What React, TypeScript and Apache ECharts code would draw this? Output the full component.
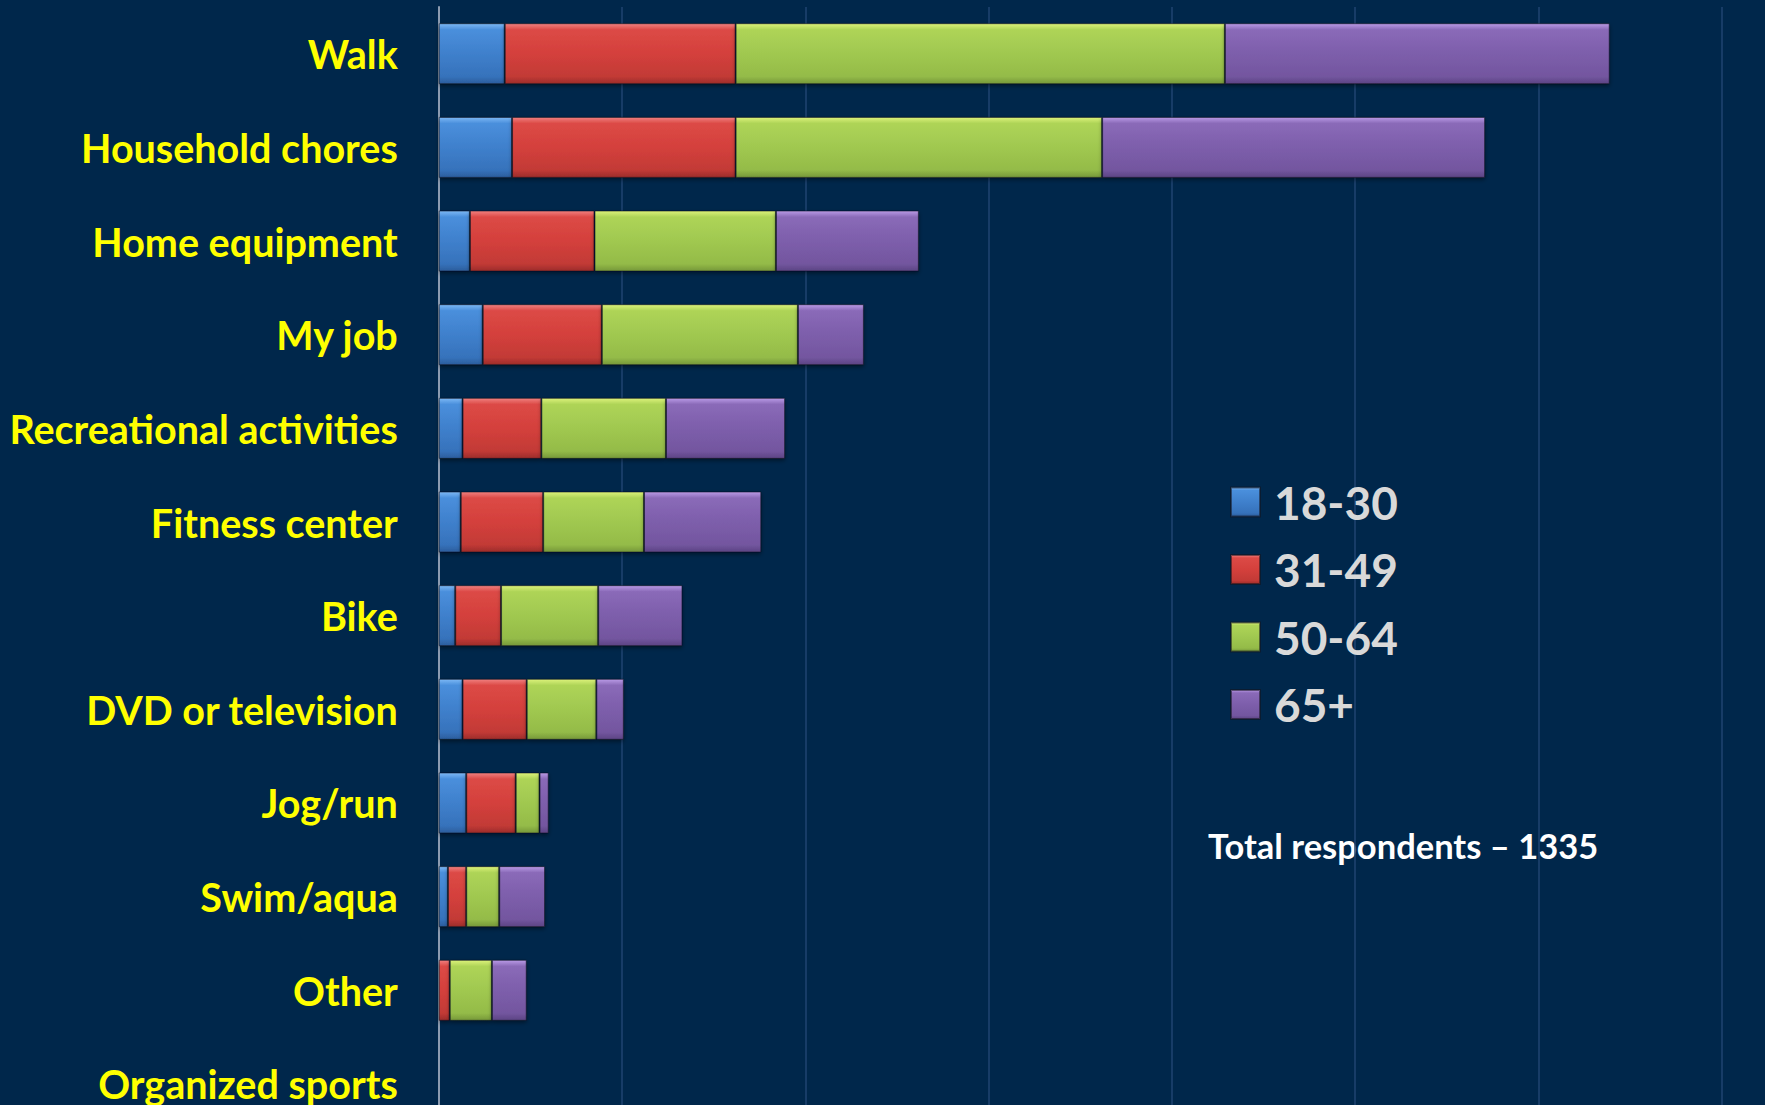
import React, { useEffect, useRef } from "react";
import * as echarts from "echarts";

const categories = [
  "Walk",
  "Household chores",
  "Home equipment",
  "My job",
  "Recreational activities",
  "Fitness center",
  "Bike",
  "DVD or television",
  "Jog/run",
  "Swim/aqua",
  "Other",
  "Organized sports",
];

const seriesNames = ["18-30", "31-49", "50-64", "65+"];
const age18to30 = [36, 40, 17, 24, 13, 12, 9, 13, 15, 5, 0, 0];
const age31to49 = [126, 122, 68, 65, 43, 45, 25, 35, 27, 10, 6, 0];
const age50to64 = [267, 200, 99, 107, 68, 55, 53, 38, 13, 18, 23, 0];
const age65plus = [210, 209, 78, 36, 65, 64, 46, 15, 5, 25, 19, 0];
const seriesValues = [age18to30, age31to49, age50to64, age65plus];

const totalNote = "Total respondents \u2013 1335";

const palettes = [
  ["#7cb8f5", "#4a8fdc", "#3f80cc", "#3672bb", "#2b5d9c"],
  ["#f08080", "#dc4a46", "#d4403c", "#c23a36", "#9c2c2a"],
  ["#dcf27a", "#aed457", "#a0c850", "#94bb48", "#76983a"],
  ["#b99ae6", "#8a6ab8", "#7d5eab", "#73569f", "#5c4484"],
];

function grad(p: string[]) {
  return new echarts.graphic.LinearGradient(0, 0, 0, 1, [
    { offset: 0, color: p[0] },
    { offset: 0.1, color: p[1] },
    { offset: 0.5, color: p[2] },
    { offset: 0.88, color: p[3] },
    { offset: 1, color: p[4] },
  ]);
}

export default function App() {
  const ref = useRef<HTMLDivElement>(null);
  useEffect(() => {
    if (!ref.current) return;
    const chart = echarts.init(ref.current, undefined, { renderer: "svg" });
    const font = "Lato, 'Open Sans', sans-serif";
    chart.setOption({
      animation: false,
      backgroundColor: "#00274b",
      grid: { left: 438.75, top: 6.9, width: 1282.75, height: 1123.9 },
      legend: {
        orient: "vertical",
        left: 1225,
        top: 474,
        itemWidth: 29,
        itemHeight: 29,
        itemGap: 21.5,
        icon: "rect",
        data: seriesNames,
        textStyle: {
          color: "#d9d9d9",
          fontSize: 46,
          fontWeight: "bold",
          fontFamily: font,
          lineHeight: 46,
          padding: [0, 0, 0, 9],
        },
      },
      graphic: [
        {
          type: "text",
          left: 1208,
          top: 828,
          style: {
            text: totalNote,
            fill: "#ffffff",
            fontSize: 34.5,
            fontWeight: "bold",
            fontFamily: font,
          },
        },
      ],
      xAxis: {
        type: "value",
        min: 0,
        max: 700,
        interval: 100,
        axisLabel: { show: false },
        axisLine: { show: false },
        axisTick: { show: false },
        splitLine: { show: true, lineStyle: { color: "#1f4570", width: 1.5 } },
      },
      yAxis: {
        type: "category",
        inverse: true,
        data: categories,
        axisTick: { show: false },
        axisLine: { show: true, lineStyle: { color: "#8c9bb0", width: 2 } },
        axisLabel: {
          color: "#ffff00",
          fontSize: 39.5,
          fontWeight: "bold",
          fontFamily: font,
          margin: 41,
          padding: [0, 0, 4, 0],
        },
      },
      series: seriesNames.map((name, i) => ({
        name,
        type: "bar",
        stack: "total",
        barWidth: 61,
        data: seriesValues[i],
        itemStyle: {
          color: grad(palettes[i]),
          borderColor: "rgba(20,20,30,0.55)",
          borderWidth: 1,
          shadowColor: "rgba(0,0,0,0.45)",
          shadowBlur: 4,
          shadowOffsetY: 2,
        },
      })),
    });
    return () => chart.dispose();
  }, []);
  return (
    <div
      ref={ref}
      style={{ position: "fixed", left: 0, top: 0, width: 1765, height: 1140 }}
    />
  );
}
